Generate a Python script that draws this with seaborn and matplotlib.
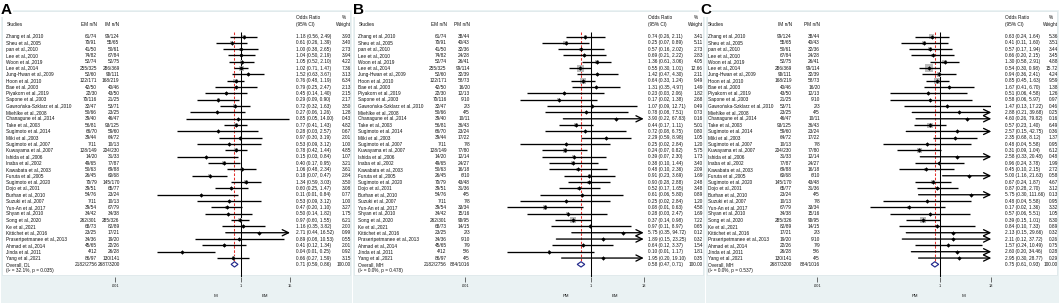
import numpy as np
import pandas as pd
import seaborn as sns
import matplotlib
matplotlib.use("Agg")
import matplotlib.pyplot as plt
from matplotlib import transforms
from matplotlib.patches import Rectangle, Polygon
from matplotlib.ticker import FixedLocator, NullLocator

# ---- data ----
studies = ["Zhang et al.,2010", "Sheu et al.,2005", "pan et al.,2010", "Lee et al.,2010",
           "Woon et al.,2019", "Lee et al.,2014", "Jung-Hwan et al.,2009", "Hoon et al.,2010",
           "Bae et al.,2003", "Piyakorn et al.,2019", "Sapone et al.,2003",
           "Gawrońska-Szklarz et al.,2010", "Miehlke et al.,2008", "Chanagune et al.,2014",
           "Take et al.,2003", "Sugimoto et al.,2014", "Miki et al.,2003", "Sugimoto et al.,2007",
           "Kuwayama et al.,2007", "Ishida et al.,2006", "Inaba et al.,2002", "Kawabata et al.,2003",
           "Furuta et al.,2005", "Sugimoto et al.,2020", "Dojo et al.,2001", "Burhan et al.,2010",
           "Suzuki et al.,2007", "Yun-An et al.,2017", "Shyan et al.,2010", "Song et al.,2020",
           "Ke et al.,2021", "Kittichet et al.,2016", "Prasertpetmanee et al.,2013",
           "Ahmad et al.,2014", "Jinda et al.,2011", "Yang et al.,2021"]

em_nN = ["61/74", "70/91", "41/50", "74/82", "52/74", "255/325", "52/60", "122/171", "42/50",
         "22/30", "70/116", "32/47", "50/66", "39/40", "56/81", "66/70", "39/44", "7/11",
         "128/149", "14/20", "49/65", "50/63", "26/45", "70/79", "39/51", "54/76", "7/11",
         "39/54", "34/42", "262/301", "68/73", "23/25", "34/36", "45/65", "4/12", "86/97"]
im_nN = ["99/124", "55/65", "50/61", "67/84", "52/75", "286/369", "90/111", "168/219", "40/46",
         "43/50", "21/25", "53/71", "23/25", "46/47", "93/125", "59/60", "64/72", "10/13",
         "204/230", "31/33", "77/87", "69/88", "60/68", "145/170", "65/77", "23/24", "10/13",
         "67/79", "34/38", "285/326", "82/89", "17/21", "19/20", "22/26", "26/28", "130/141"]
pm_nN = ["38/44", "40/43", "32/36", "24/28", "26/41", "99/114", "32/39", "58/73", "16/20",
         "12/13", "9/10", "2/3", "4/5", "10/11", "36/43", "23/24", "17/22", "7/8",
         "77/80", "12/14", "24/27", "16/18", "6/10", "43/48", "31/36", "4/5", "7/8",
         "33/34", "15/16", "90/95", "14/15", "2/3", "9/10", "7/9", "5/6", "4/5"]
em_total, im_total, pm_total = "2182/2756", "2687/3200", "884/1016"

# A: EM vs IM
a_or = [1.18, 0.61, 1.00, 1.04, 1.05, 1.02, 1.52, 0.76, 0.79, 0.45, 0.29, 0.72, 0.27, 0.85, 0.77, 0.28, 0.97, 0.53,
        0.78, 0.15, 0.40, 1.06, 0.18, 1.34, 0.60, 0.11, 0.53, 0.47, 0.50, 0.97, 1.16, 2.71, 0.89, 0.41, 0.04, 0.66]
a_lo = [0.56, 0.26, 0.38, 0.50, 0.52, 0.71, 0.63, 0.48, 0.25, 0.14, 0.09, 0.32, 0.06, 0.05, 0.41, 0.03, 0.30, 0.09,
        0.42, 0.03, 0.17, 0.48, 0.07, 0.59, 0.25, 0.01, 0.09, 0.20, 0.14, 0.60, 0.35, 0.44, 0.08, 0.12, 0.01, 0.27]
a_hi = [2.49, 1.39, 2.65, 2.19, 2.10, 1.47, 3.67, 1.19, 2.47, 1.40, 0.90, 1.63, 1.26, 14.00, 1.43, 2.57, 3.19, 3.12,
        1.44, 0.84, 0.95, 2.34, 0.47, 3.03, 1.47, 0.84, 3.12, 1.10, 1.82, 1.55, 3.82, 16.52, 10.53, 1.34, 0.25, 1.59]
a_w = [3.93, 3.40, 2.73, 3.94, 4.22, 7.36, 3.13, 6.34, 2.13, 2.15, 2.17, 3.50, 1.28, 0.43, 4.82, 0.67, 2.01, 1.00,
       4.85, 1.07, 3.21, 3.61, 2.84, 3.50, 3.08, 0.77, 1.00, 3.27, 1.75, 6.21, 2.00, 0.99, 0.55, 2.01, 0.92, 3.15]
a_overall = (0.71, 0.59, 0.86)

# B: EM vs PM
b_or = [0.74, 0.25, 0.57, 0.69, 1.36, 0.55, 1.42, 0.64, 1.31, 0.23, 0.17, 1.07, 0.78, 3.90, 0.44, 0.72, 2.29, 0.25,
        0.24, 0.39, 0.38, 0.48, 0.91, 0.90, 0.52, 0.61, 0.25, 0.08, 0.28, 0.37, 0.97, 5.75, 1.89, 0.64, 0.10, 1.95]
b_lo = [0.26, 0.07, 0.16, 0.21, 0.61, 0.30, 0.47, 0.33, 0.35, 0.03, 0.02, 0.09, 0.08, 0.22, 0.17, 0.08, 0.59, 0.02,
        0.07, 0.07, 0.10, 0.10, 0.23, 0.28, 0.17, 0.06, 0.02, 0.01, 0.03, 0.14, 0.11, 0.35, 0.15, 0.12, 0.01, 0.20]
b_hi = [2.11, 0.89, 2.02, 2.22, 3.06, 1.01, 4.30, 1.24, 4.97, 2.06, 1.38, 12.71, 7.51, 67.83, 1.11, 6.75, 8.98, 2.84,
        0.82, 2.30, 1.44, 2.36, 3.69, 2.88, 1.65, 5.80, 2.84, 0.63, 2.47, 0.98, 8.97, 94.72, 23.25, 3.37, 1.17, 19.10]
b_w = [3.41, 5.11, 2.73, 2.83, 4.05, 12.66, 2.11, 9.49, 1.49, 1.82, 2.68, 0.49, 0.73, 0.16, 5.01, 0.80, 1.05, 1.20,
       5.75, 1.73, 3.40, 2.09, 1.69, 2.48, 3.48, 0.89, 1.20, 4.58, 1.69, 7.22, 0.65, 0.12, 0.32, 1.54, 1.81, 0.35]
b_overall = (0.58, 0.47, 0.71)

# C: IM vs PM
c_or = [0.63, 0.41, 0.57, 0.66, 1.30, 0.54, 0.94, 0.85, 1.67, 0.51, 0.58, 1.47, 2.88, 4.60, 0.57, 2.57, 2.35, 0.48,
        0.31, 2.58, 0.96, 0.45, 5.00, 0.67, 0.87, 5.75, 0.48, 0.17, 0.57, 0.39, 0.84, 2.13, 2.11, 1.57, 2.60, 2.95]
c_lo = [0.24, 0.11, 0.17, 0.20, 0.58, 0.30, 0.36, 0.45, 0.41, 0.06, 0.06, 0.13, 0.21, 0.26, 0.23, 0.15, 0.68, 0.04,
        0.09, 0.33, 0.24, 0.10, 1.16, 0.24, 0.28, 0.30, 0.04, 0.02, 0.06, 0.15, 0.10, 0.15, 0.12, 0.24, 0.20, 0.30]
c_hi = [1.64, 1.60, 1.94, 2.15, 2.91, 0.98, 2.41, 1.63, 6.70, 4.58, 5.97, 17.22, 39.68, 79.82, 1.40, 42.75, 8.12, 5.58,
        1.04, 20.48, 3.78, 2.15, 21.63, 1.87, 2.70, 111.66, 5.58, 1.36, 5.51, 1.01, 7.33, 29.66, 37.72, 10.49, 34.46, 28.77]
c_w = [5.36, 3.51, 3.44, 3.45, 4.88, 15.72, 4.24, 9.59, 1.38, 1.26, 0.97, 0.46, 0.25, 0.16, 6.49, 0.36, 1.37, 0.95,
       6.12, 0.48, 1.99, 2.72, 0.58, 4.67, 3.12, 0.13, 0.95, 3.32, 1.05, 8.30, 0.89, 0.32, 0.26, 0.75, 0.28, 0.29]
c_overall = (0.75, 0.61, 0.93)

# ---- layout (pixels) ----
sns.set_style("white")
plt.rcParams['font.family'] = ['Liberation Sans', 'DejaVu Sans']

W, H = 1059, 303
ROW0, STEP = 36.5, 6.33
TOP_PX, AX_BOTTOM_PX, BOX_BOTTOM_PX = 10, 276.5, 274.5
FS = 3.4
BLUE_BG = "#EAF2F3"
CI_LW = 0.95

panels = [
    dict(label="A", x0=0, x1=352, lab_x=1, sx=6.5, c1=97, c2=119.5, lo_px=115, hi_px=290, xmax=15,
         ox=296.5, wr=351, h1="EM n/N", h2="IM n/N", col1=em_nN, col2=im_nN, t1=em_total, t2=im_total,
         ors=a_or, los=a_lo, his=a_hi, ws=a_w, ov=a_overall, k=1.8, left="IM", right="EM",
         ovlab="Overall, DL", het="(I² = 32.1%, p = 0.035)"),
    dict(label="B", x0=352, x1=705, lab_x=353.5, sx=358.3, c1=446.7, c2=470, lo_px=465, hi_px=643.7, xmax=18,
         ox=648.3, wr=703, h1="EM n/N", h2="PM n/N", col1=em_nN, col2=pm_nN, t1=em_total, t2=pm_total,
         ors=b_or, los=b_lo, his=b_hi, ws=b_w, ov=b_overall, k=2.0, left="PM", right="EM",
         ovlab="Overall, MH", het="(I² = 0.0%, p = 0.478)"),
    dict(label="C", x0=705, x1=1059, lab_x=700, sx=707.5, c1=791.7, c2=820, lo_px=817.3, hi_px=991.3, xmax=18,
         ox=1005, wr=1058, h1="IM n/N", h2="PM n/N", col1=im_nN, col2=pm_nN, t1=im_total, t2=pm_total,
         ors=c_or, los=c_lo, his=c_hi, ws=c_w, ov=c_overall, k=2.0, left="PM", right="IM",
         ovlab="Overall, MH", het="(I² = 0.0%, p = 0.537)"),
]

fig = plt.figure(figsize=(W / 100, H / 100), dpi=100, facecolor="white")

top_row = (TOP_PX - ROW0) / STEP
bot_row = (AX_BOTTOM_PX - ROW0) / STEP
n = len(studies)
rows = np.arange(n)

for p in panels:
    x0, x1 = p["x0"], p["x1"]
    pax = fig.add_axes([x0 / W, 0, (x1 - x0) / W, 1])
    pax.set_xlim(x0, x1)
    pax.set_ylim(H, 0)
    pax.axis("off")
    pax.add_patch(Rectangle((x0 + 0.5, TOP_PX), x1 - x0 - 1, H - TOP_PX, fc=BLUE_BG, ec="none", zorder=0))
    pax.add_patch(Rectangle((x0 + 2, TOP_PX + 1), x1 - x0 - 4, BOX_BOTTOM_PX - TOP_PX - 1,
                            fc="white", ec="#d3dfe2", lw=0.4, zorder=0.5))

    fax = fig.add_axes([p["lo_px"] / W, (H - AX_BOTTOM_PX) / H,
                        (p["hi_px"] - p["lo_px"]) / W, (AX_BOTTOM_PX - TOP_PX) / H])
    fax.set_facecolor("none")
    fax.set_xscale("log")
    xmax = p["xmax"]

    ors = np.array(p["ors"]); los = np.array(p["los"]); his = np.array(p["his"]); ws = np.array(p["ws"])
    df = pd.DataFrame({"or": ors, "row": rows, "w": ws})

    # CI lines (arrows where the CI runs past the axis)
    inside = his <= xmax
    fax.hlines(rows[inside], los[inside], his[inside], colors="black", lw=CI_LW, zorder=3)
    for r in rows[~inside]:
        fax.annotate("", xy=(xmax, r), xytext=(los[r], r), annotation_clip=False,
                     arrowprops=dict(arrowstyle="->,head_length=0.45,head_width=0.22", lw=CI_LW,
                                     color="black", shrinkA=0, shrinkB=0, mutation_scale=10), zorder=3)

    # weight boxes (area proportional to weight) and point estimates
    area = (p["k"] * 0.72) ** 2
    sns.scatterplot(data=df, x="or", y="row", size="w", sizes=(area * ws.min(), area * ws.max()),
                    size_norm=(ws.min(), ws.max()), marker="s", color="#bdbdbd", linewidth=0,
                    legend=False, ax=fax, zorder=2)
    sns.scatterplot(data=df, x="or", y="row", marker="D", s=5, color="black", linewidth=0,
                    legend=False, ax=fax, zorder=4)

    ov_or, ov_lo, ov_hi = p["ov"]
    ov_row = n
    fax.vlines(1, -0.75, bot_row, colors="black", lw=0.75, zorder=1)
    fax.vlines(ov_or, -0.75, ov_row - 0.45, colors="#e5322d", lw=0.75, linestyles=(0, (2.5, 1.6)), zorder=1)
    fax.add_patch(Polygon([(ov_lo, ov_row), (ov_or, ov_row - 0.42), (ov_hi, ov_row), (ov_or, ov_row + 0.42)],
                          closed=True, fc="white", ec="#22288a", lw=0.85, zorder=5))

    fax.set_xlim(0.001, xmax)
    fax.set_ylim(bot_row, top_row)
    fax.set_xlabel("")
    fax.set_ylabel("")
    fax.set_yticks([])
    fax.xaxis.set_major_locator(FixedLocator([0.001, 1, xmax]))
    fax.xaxis.set_minor_locator(NullLocator())
    fax.set_xticklabels([".001", "1", str(xmax)])
    fax.tick_params(axis="x", bottom=True, direction="out", length=3.6, width=0.5, pad=1.6,
                    labelsize=2.8, color="#333333", labelcolor="#111111")
    for s in fax.spines.values():
        s.set_visible(False)

    tr = transforms.blended_transform_factory(pax.transData, fax.transData)

    def put(x, r, s, ha="left", **kw):
        pax.text(x, r, s, transform=tr, ha=ha, va="center", fontsize=FS, color="#111111",
                 clip_on=True, clip_box=pax.bbox, **kw)

    # header
    h1r, h2r = -2.95, -1.9
    put(p["sx"], h2r, "Studies")
    put(p["c1"], h2r, p["h1"], ha="right")
    put(p["c2"], h2r, p["h2"], ha="right")
    put(p["ox"], h1r, "Odds Ratio")
    put(p["ox"], h2r, "(95% CI)")
    put(p["wr"] - 7.5, h1r, "%", ha="center")
    put(p["wr"], h2r, "Weight", ha="right")

    for i in range(n):
        put(p["sx"], i, studies[i])
        put(p["c1"], i, p["col1"][i], ha="right")
        put(p["c2"], i, p["col2"][i], ha="right")
        put(p["ox"], i, f"{ors[i]:.2f} ({los[i]:.2f}, {his[i]:.2f})")
        put(p["wr"], i, f"{ws[i]:.2f}", ha="right")

    put(p["sx"], ov_row, p["ovlab"])
    put(p["c1"], ov_row, p["t1"], ha="right")
    put(p["c2"], ov_row, p["t2"], ha="right")
    put(p["ox"], ov_row, f"{ov_or:.2f} ({ov_lo:.2f}, {ov_hi:.2f})")
    put(p["wr"], ov_row, "100.00", ha="right")
    put(p["sx"], ov_row + 1, p["het"])

    # favours labels under the axis
    null_px = p["lo_px"] + (p["hi_px"] - p["lo_px"]) * 3 / (3 + np.log10(xmax))
    pax.text(null_px - 25, 296, p["left"], ha="center", va="center", fontsize=3.1, color="#111111")
    pax.text(null_px + 24, 296, p["right"], ha="center", va="center", fontsize=3.1, color="#111111")

    # panel letter
    pax.text(p["lab_x"], 9.5, p["label"], ha="left", va="center", fontsize=11, fontweight="bold",
             color="black", clip_on=False, zorder=10,
             bbox=dict(fc="white", ec="none", pad=0.4))

fig.savefig("out.png", dpi=100, facecolor="white")
